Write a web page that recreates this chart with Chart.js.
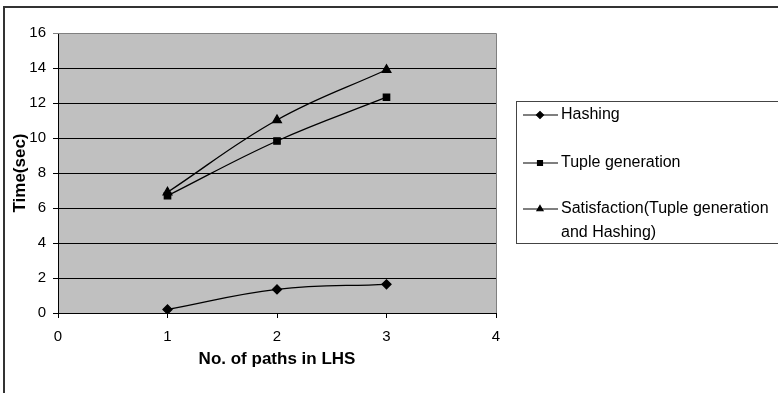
<!DOCTYPE html>
<html>
<head>
<meta charset="utf-8">
<script src="https://cdn.jsdelivr.net/npm/chart.js@4.4.1/dist/chart.umd.min.js"></script>
<style>
  html, body { margin: 0; padding: 0; background: #fff; }
  #wrap { position: relative; width: 778px; height: 393px; }
</style>
</head>
<body>
<div id="wrap"><canvas id="c" width="778" height="393"></canvas></div>
<script>
const xValues = [1, 2, 3];
const hashing = [0.2, 1.35, 1.64];
const tupleGeneration = [6.7, 9.83, 12.33];
const satisfaction = [6.9, 11.03, 13.9];
const seriesNames = ['Hashing', 'Tuple generation', 'Satisfaction(Tuple generation and Hashing)'];
const legendLines = [['Hashing'], ['Tuple generation'], ['Satisfaction(Tuple generation', 'and Hashing)']];
const markerStyles = ['rectRot', 'rect', 'triangle'];
const xTitle = 'No. of paths in LHS';
const yTitle = 'Time(sec)';

const FONT = '"Liberation Sans", Arial, sans-serif';

const toPoints = arr => arr.map((v, i) => ({ x: xValues[i], y: v }));

const framePlugin = {
  id: 'frame',
  beforeDraw(chart) {
    const { ctx, chartArea: a } = chart;
    ctx.save();
    ctx.fillStyle = '#c0c0c0';
    ctx.fillRect(a.left, a.top, a.right - a.left, a.bottom - a.top);
    ctx.restore();
  },
  afterDraw(chart) {
    const { ctx, chartArea: a } = chart;
    ctx.save();
    // outer frame
    ctx.strokeStyle = '#333';
    ctx.lineWidth = 2;
    ctx.beginPath();
    ctx.moveTo(4, 400);
    ctx.lineTo(4, 7);
    ctx.lineTo(790, 7);
    ctx.stroke();
    // plot border top/right
    ctx.strokeStyle = '#808080';
    ctx.lineWidth = 1;
    ctx.beginPath();
    ctx.moveTo(a.left, a.top + 0.5);
    ctx.lineTo(a.right + 0.5, a.top + 0.5);
    ctx.lineTo(a.right + 0.5, a.bottom);
    ctx.stroke();
    // legend box
    const lx = 516, ly = 101, lh = 142;
    ctx.strokeStyle = '#444';
    ctx.lineWidth = 1;
    ctx.strokeRect(lx + 0.5, ly + 0.5, 300, lh);
    const rows = [115, 163, 209];
    ctx.font = '16px ' + FONT;
    ctx.textBaseline = 'middle';
    chart.data.datasets.forEach((ds, i) => {
      const y = rows[i];
      ctx.strokeStyle = '#000';
      ctx.lineWidth = 1.2;
      ctx.beginPath();
      ctx.moveTo(523, y);
      ctx.lineTo(558, y);
      ctx.stroke();
      ctx.fillStyle = '#000';
      Chart.helpers.drawPoint(ctx, { pointStyle: ds.pointStyle, radius: 3.5, borderWidth: 1 }, 540, y);
      legendLines[i].forEach((t, j) => {
        ctx.fillStyle = '#000';
        ctx.fillText(t, 561, y + j * 24);
      });
    });
    ctx.restore();
  }
};

const ds = [hashing, tupleGeneration, satisfaction].map((arr, i) => ({
  label: seriesNames[i],
  data: toPoints(arr),
  borderColor: '#000',
  backgroundColor: '#000',
  borderWidth: 1.3,
  pointStyle: markerStyles[i],
  pointRadius: i === 2 ? 5 : 4.5,
  pointBackgroundColor: '#000',
  pointBorderColor: '#000',
  tension: 0.4,
  fill: false
}));

new Chart(document.getElementById('c'), {
  type: 'line',
  data: { datasets: ds },
  plugins: [framePlugin],
  options: {
    responsive: false,
    animation: false,
    layout: { padding: { left: 0, right: 282, top: 33, bottom: 0 } },
    plugins: { legend: { display: false }, tooltip: { enabled: false } },
    scales: {
      x: {
        type: 'linear',
        min: 0, max: 4,
        ticks: { stepSize: 1, color: '#000', padding: 10, font: { family: FONT, size: 15 } },
        grid: { drawOnChartArea: false, drawTicks: true, tickLength: 5, color: '#000' },
        border: { color: '#000', width: 1 },
        title: { display: true, text: xTitle, color: '#000', font: { family: FONT, size: 17, weight: 'bold' }, padding: { top: 0, bottom: 23 } },
        afterFit(s) { s.height = 80; }
      },
      y: {
        min: 0, max: 16,
        ticks: { stepSize: 2, color: '#000', padding: 7, font: { family: FONT, size: 15 } },
        grid: {
          drawOnChartArea: true, drawTicks: true, tickLength: 5,
          color: c => (c.tick && c.tick.value === 16) ? '#808080' : '#000',
          lineWidth: 1
        },
        border: { color: '#000', width: 1 },
        title: { display: true, text: yTitle, color: '#000', font: { family: FONT, size: 17, weight: 'bold' }, padding: { top: 10, bottom: 0 } },
        afterFit(s) { s.width = 58; }
      }
    }
  }
});
</script>
</body>
</html>
